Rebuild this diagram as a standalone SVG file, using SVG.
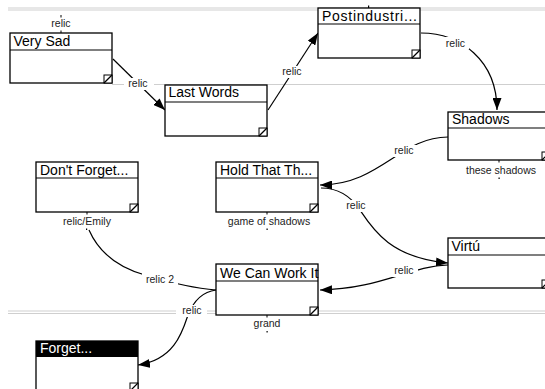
<svg xmlns="http://www.w3.org/2000/svg" width="545" height="389" viewBox="0 0 545 389">
<defs>
<style>
.sep{stroke:#cfcfcf;stroke-width:1;fill:none}
.box{fill:#fff;stroke:#000;stroke-width:1.3}
.div{stroke:#000;stroke-width:1.2}
.ttl{font-family:"Liberation Sans",Arial,sans-serif;font-size:14px;fill:#000}
.grip{fill:#fff;stroke:#000;stroke-width:1}
.con{fill:none;stroke:#000;stroke-width:1.2}
.lbg{fill:#fff}
.lbl{font-family:"Liberation Sans",Arial,sans-serif;font-size:10.5px;fill:#222;text-anchor:middle}
.tick{fill:#000}
</style>
<marker id="ah" markerUnits="userSpaceOnUse" viewBox="0 0 12 9" markerWidth="12" markerHeight="9" refX="12" refY="4.5" orient="auto">
<path d="M0,0 L12,4.5 L0,9 z" fill="#000"/>
</marker>
</defs>
<rect width="545" height="389" fill="#fff"/>
<g id="separators">
<line class="sep" x1="8" y1="8" x2="545" y2="8"/>
<line class="sep" x1="8" y1="10" x2="545" y2="10"/>
<line class="sep" x1="112" y1="84.5" x2="545" y2="84.5"/>
<line class="sep" x1="8" y1="311" x2="545" y2="311"/>
<line class="sep" x1="8" y1="313.5" x2="545" y2="313.5"/>
</g>
<g id="connectors">
<path class="con" d="M113,59 L165,110" marker-end="url(#ah)"/>
<path class="con" d="M268,110 L318,33" marker-end="url(#ah)"/>
<path class="con" d="M421,33 C460,33 497,60 497,110" marker-end="url(#ah)"/>
<path class="con" d="M448,137 C400,137 380,185 320,185" marker-end="url(#ah)"/>
<path class="con" d="M321,188 C340,188 352,198 360,210 C372,228 390,258 448,263" marker-end="url(#ah)"/>
<path class="con" d="M448,265 C410,266 380,289 320,290" marker-end="url(#ah)"/>
<path class="con" d="M89,230 C100,255 120,268 145,275 C165,281 190,288 216,290"/>
<path class="con" d="M216,290 C200,292 192,305 188,315 C183,330 175,360 138,365" marker-end="url(#ah)"/>
<rect class="tick" x="60.5" y="15" width="1" height="2.5"/>
<rect class="tick" x="60.5" y="30.5" width="1" height="2.5"/>
<rect class="tick" x="368" y="5.5" width="1.2" height="2.5"/>
<rect class="tick" x="498.5" y="160" width="1" height="2.5"/>
<rect class="tick" x="498.5" y="177.5" width="1.2" height="1.5"/>
<rect class="tick" x="86.5" y="212" width="1" height="2.5"/>
<rect class="tick" x="86" y="228.5" width="1.2" height="1.5"/>
<rect class="tick" x="266.5" y="212" width="1" height="2.5"/>
<rect class="tick" x="266.5" y="228.5" width="1.2" height="1.5"/>
<rect class="tick" x="266.5" y="315" width="1" height="2.5"/>
<rect class="tick" x="266.5" y="331" width="1.2" height="1.5"/>
<rect class="lbg" x="124" y="78" width="30" height="12"/>
<rect class="lbg" x="279" y="66" width="27" height="12"/>
<rect class="lbg" x="442" y="37" width="27" height="12"/>
<rect class="lbg" x="391" y="145" width="27" height="12"/>
<rect class="lbg" x="343" y="200" width="27" height="12"/>
<rect class="lbg" x="391" y="265" width="27" height="12"/>
<rect class="lbg" x="142" y="273" width="36" height="12"/>
<rect class="lbg" x="176" y="305" width="31" height="12"/>
<text class="lbl" x="61" y="27">relic</text>
<text class="lbl" x="138" y="87">relic</text>
<text class="lbl" x="292" y="75">relic</text>
<text class="lbl" x="455.5" y="46.5">relic</text>
<text class="lbl" x="404" y="154">relic</text>
<text class="lbl" x="501" y="174">these shadows</text>
<text class="lbl" x="87" y="225">relic/Emily</text>
<text class="lbl" x="269" y="225">game of shadows</text>
<text class="lbl" x="356" y="209">relic</text>
<text class="lbl" x="404" y="274">relic</text>
<text class="lbl" x="160" y="282.5">relic 2</text>
<text class="lbl" x="192" y="314">relic</text>
<text class="lbl" x="267" y="327">grand</text>
</g>
<g id="n-very-sad">
<rect class="box" x="10" y="33" width="102" height="50"/>
<line class="div" x1="10" y1="50" x2="112" y2="50"/>
<text class="ttl" x="13.5" y="45.5">Very Sad</text>
<rect class="grip" x="104" y="75" width="8" height="8"/>
<line class="div" x1="104" y1="83" x2="112" y2="75"/>
</g>
<g id="n-last-words">
<rect class="box" x="165" y="85" width="102" height="51"/>
<line class="div" x1="165" y1="102" x2="267" y2="102"/>
<text class="ttl" x="168.5" y="97">Last Words</text>
<rect class="grip" x="259" y="128" width="8" height="8"/>
<line class="div" x1="259" y1="136" x2="267" y2="128"/>
</g>
<g id="n-postindustrial">
<rect class="box" x="318" y="8" width="102" height="50"/>
<line class="div" x1="318" y1="24" x2="420" y2="24"/>
<text class="ttl" x="322" y="20.7" textLength="95" lengthAdjust="spacing">Postindustri...</text>
<rect class="grip" x="412" y="50" width="8" height="8"/>
<line class="div" x1="412" y1="58" x2="420" y2="50"/>
</g>
<g id="n-shadows">
<rect class="box" x="448" y="112" width="102" height="48"/>
<line class="div" x1="448" y1="128" x2="550" y2="128"/>
<text class="ttl" x="452" y="123.5">Shadows</text>
<rect class="grip" x="542" y="152" width="8" height="8"/>
<line class="div" x1="542" y1="160" x2="550" y2="152"/>
</g>
<g id="n-dont-forget">
<rect class="box" x="36" y="162" width="102" height="50"/>
<line class="div" x1="36" y1="178" x2="138" y2="178"/>
<text class="ttl" x="40" y="175">Don't Forget...</text>
<rect class="grip" x="130" y="204" width="8" height="8"/>
<line class="div" x1="130" y1="212" x2="138" y2="204"/>
</g>
<g id="n-hold-that">
<rect class="box" x="216" y="162" width="102" height="50"/>
<line class="div" x1="216" y1="178" x2="318" y2="178"/>
<text class="ttl" x="220" y="174.5">Hold That Th...</text>
<rect class="grip" x="310" y="204" width="8" height="8"/>
<line class="div" x1="310" y1="212" x2="318" y2="204"/>
</g>
<g id="n-virtu">
<rect class="box" x="448" y="238" width="102" height="50"/>
<line class="div" x1="448" y1="255" x2="550" y2="255"/>
<text class="ttl" x="451.5" y="250.7">Virtú</text>
<rect class="grip" x="542" y="280" width="8" height="8"/>
<line class="div" x1="542" y1="288" x2="550" y2="280"/>
</g>
<g id="n-we-can-work-it">
<rect class="box" x="216" y="264" width="102" height="51"/>
<line class="div" x1="216" y1="281" x2="318" y2="281"/>
<text class="ttl" x="220" y="277.5">We Can Work It</text>
<rect class="grip" x="310" y="307" width="8" height="8"/>
<line class="div" x1="310" y1="315" x2="318" y2="307"/>
</g>
<g id="n-forget">
<rect class="box" x="36" y="341" width="102" height="50"/>
<rect x="36" y="341" width="102" height="16" fill="#000"/>
<text class="ttl" x="40" y="353" fill="#fff" style="fill:#fff">Forget...</text>
<rect class="grip" x="130" y="383" width="8" height="8"/>
<line class="div" x1="130" y1="391" x2="138" y2="383"/>
</g>
</svg>
